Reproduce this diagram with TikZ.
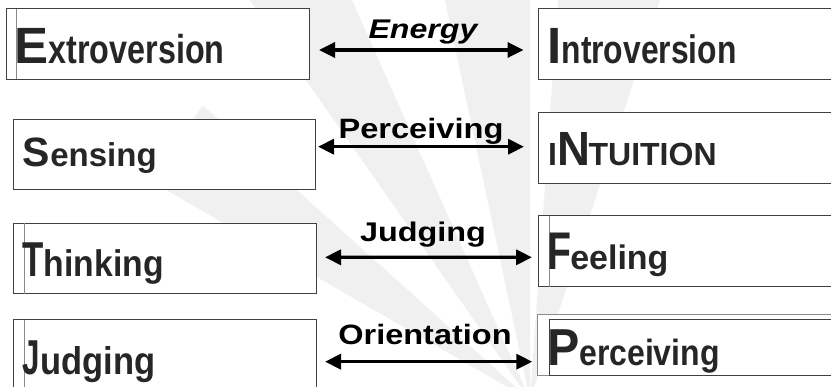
\documentclass[tikz,border=0pt]{standalone}
\usepackage{fontspec}
\setmainfont{Liberation Sans}
\usepackage{graphicx}
\usetikzlibrary{arrows.meta,calc}

\definecolor{rayfill}{HTML}{F0F0F0}
\definecolor{boxline}{HTML}{404040}
\definecolor{boxline2}{HTML}{8A8A8A}
\definecolor{boxtext}{HTML}{262626}

% text at a given size, stretched by (x,y)
\newcommand\stxt[4]{\scalebox{#2}[#3]{\fontsize{#1}{#1}\selectfont #4}}

\begin{document}
\begin{tikzpicture}[x=1pt,y=1pt,
  box/.style={draw=boxline, line width=1pt, fill=white, inner sep=0pt, outer sep=0pt, anchor=north west, rectangle},
  backbox/.style={draw=boxline2, line width=1pt, fill=white, inner sep=0pt, outer sep=0pt, anchor=north west, rectangle},
  edge2/.style={draw=boxline2, line width=1pt},
  word/.style={anchor=base west, inner sep=0pt, outer sep=0pt, text=boxtext, font=\bfseries},
  axislabel/.style={anchor=base, inner sep=0pt, outer sep=0pt, text=black, font=\bfseries},
  link/.style={line width=3.4pt, {Triangle[length=16pt,width=15pt]}-{Triangle[length=16pt,width=15pt]}},
]
\useasboundingbox (0,0) rectangle (831,-387);
\clip (0,0) rectangle (831,-387);
\fill[white] (0,0) rectangle (831,-387);

% sunburst in the background
\coordinate (C) at (530,-400);
\foreach \a/\b/\r in {138/150/440, 114/125/700, 90/102/700, 72/86/700}{
  \fill[rayfill] (C) -- ($(C)+(\a:\r)$) -- ($(C)+(\b:\r)$) -- cycle;
}

% left column
\node[box, minimum width=303, minimum height=70.5] (E) at (6,-9) {};
\draw[edge2] ($(E.north west)+(10.7,0)$) -- ($(E.south west)+(10.7,0)$);
\node[box, minimum width=301.7, minimum height=70.7] (S) at (13.3,-119.3) {};
\node[box, minimum width=302.7, minimum height=70.7] (T) at (13.3,-223.3) {};
\draw[edge2] ($(T.north west)+(10.7,0)$) -- ($(T.south west)+(10.7,0)$);
\node[box, minimum width=302.7, minimum height=80] (J) at (13.3,-320) {};
\draw[edge2] ($(J.north west)+(10.7,0)$) -- ($(J.south west)+(10.7,0)$);

% right column
\node[box, minimum width=300, minimum height=70.5] (I) at (538,-9) {};
\node[box, minimum width=300, minimum height=70.6] (N) at (538,-112.7) {};
\node[box, minimum width=300, minimum height=71] (F) at (538,-216) {};
\draw[edge2] ($(F.north west)+(11,0)$) -- ($(F.south west)+(11,0)$);
\node[backbox, minimum width=300, minimum height=61] (Pb) at (537.3,-315) {};
\node[box, minimum width=290, minimum height=56.7] (P) at (549.3,-319.3) {};

% box texts
\node[word] (tE) at (14.6,-63.3) {\stxt{51}{1}{1}{E}\stxt{32.3}{1}{1.25}{xtroversion}};
\node[word] (tI) at (547.4,-63.3) {\stxt{51}{1}{1}{I}\stxt{31.8}{1}{1.25}{ntroversion}};
\node[word] (tS) at (23,-166.7) {\stxt{41}{1}{1}{S}\stxt{33}{1}{1}{ensing}};
\node[word] (tN) at (548,-165.7) {\stxt{32}{1}{1}{I}\kern0.8pt\stxt{48}{0.95}{1}{N}\kern-2pt\stxt{32}{1}{1}{TUITION}};
\node[word] (tT) at (22.6,-276.7) {\stxt{49}{0.71}{1}{T}\stxt{33.7}{1}{1.1}{hinking}};
\node[word] (tF) at (547.8,-270) {\stxt{53}{0.74}{1}{F}\kern-1.5pt\stxt{34}{1}{1}{eeling}};
\node[word] (tJ) at (23,-375) {\stxt{49}{0.64}{1}{J}\stxt{34.5}{1}{1.12}{udging}};
\node[word] (tP) at (547,-365.7) {\stxt{52}{0.93}{1}{P}\stxt{32}{1}{1.14}{erceiving}};

% dimension labels
\node[axislabel] (lE) at (423,-38.7) {\stxt{27}{1.19}{1}{\itshape Energy}};
\node[axislabel] (lS) at (421,-138.3) {\stxt{28}{1.165}{1}{Perceiving}};
\node[axislabel] (lT) at (423,-241.7) {\stxt{27}{1.2}{1}{Judging}};
\node[axislabel] (lJ) at (425,-345) {\stxt{28}{1.16}{1}{Orientation}};

% connectors
\draw[link] ($(E.east)+(10,-5.75)$) -- ($(I.west)+(-14.5,-5.75)$);
\draw[link] ($(S.east)+(3,7.95)$) -- ($(N.west)+(-14,1.3)$);
\draw[link] ($(T.east)+(9,1.35)$) -- ($(F.west)+(-6,-5.8)$);
\draw[link] ($(J.east)+(9,-1.7)$) -- ($(P.west)+(-17,-14.05)$);
\end{tikzpicture}
\end{document}
